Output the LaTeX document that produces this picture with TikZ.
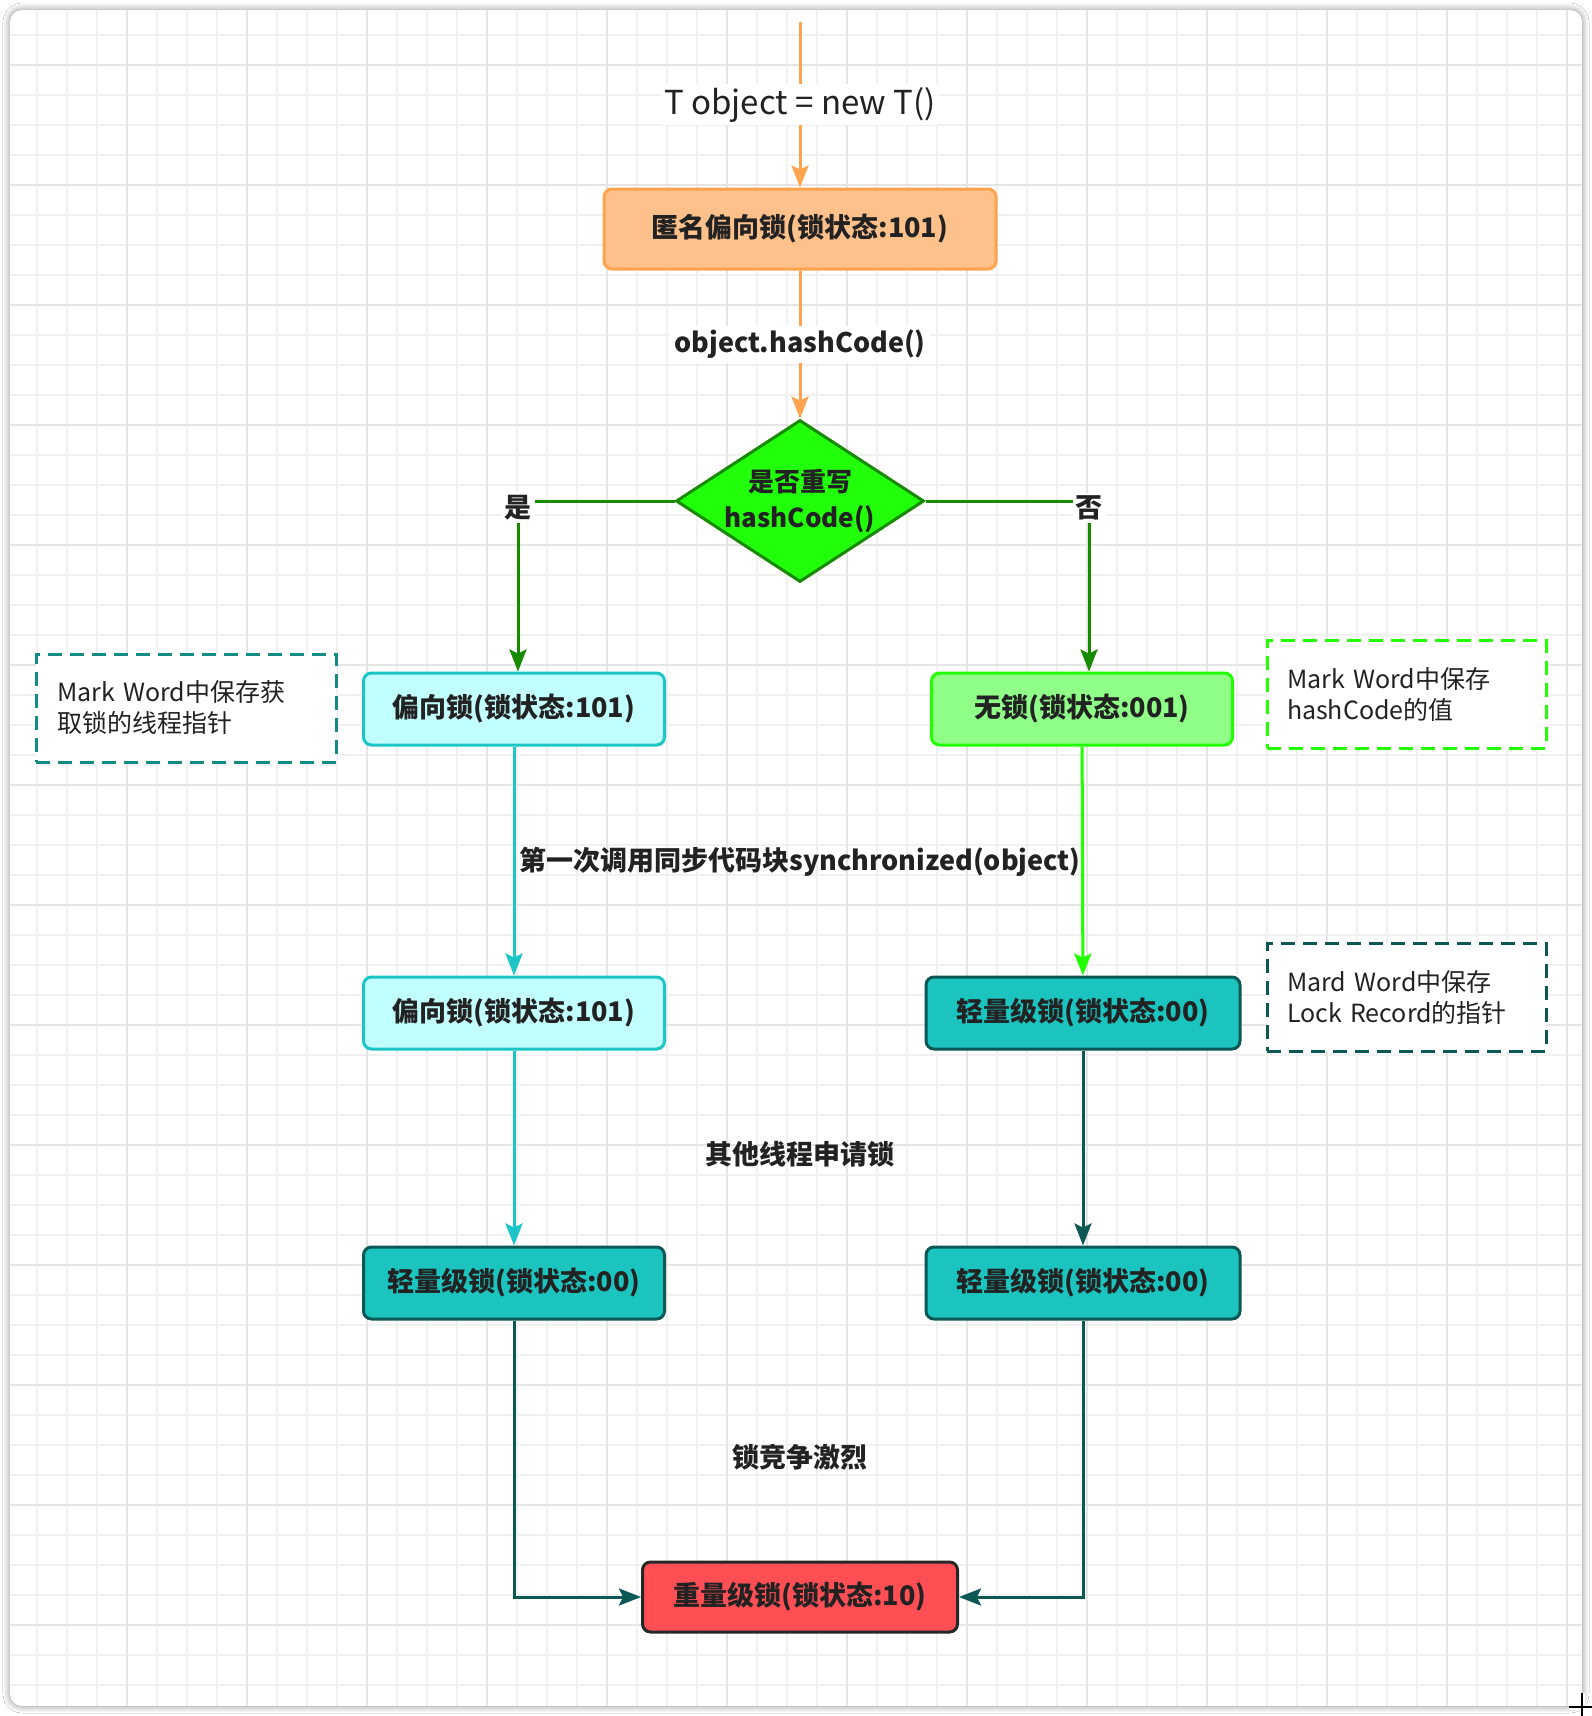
\documentclass[tikz,border=0pt]{standalone}
\usepackage{fontspec}
\setmainfont{Noto Sans CJK SC}
\usetikzlibrary{shapes.geometric,arrows.meta,shadows.blur}

\definecolor{txt}{HTML}{222222}
\definecolor{gridminor}{HTML}{F1F1F1}
\definecolor{gridmajor}{HTML}{E5E5E5}
\definecolor{orline}{HTML}{FFA34F}
\definecolor{orfill}{HTML}{FFC18B}
\definecolor{decfill}{HTML}{22FF0B}
\definecolor{decline}{HTML}{188A00}
\definecolor{cyfill}{HTML}{C2FFFF}
\definecolor{cyline}{HTML}{1CC6C6}
\definecolor{grfill}{HTML}{8FFF88}
\definecolor{grline}{HTML}{22FF00}
\definecolor{tlfill}{HTML}{1BC4BF}
\definecolor{tlline}{HTML}{0C5855}
\definecolor{rdfill}{HTML}{FF4F55}
\definecolor{rdline}{HTML}{262626}
\definecolor{noteteal}{HTML}{138C85}

\newcommand\boxfont{\fontsize{27pt}{32pt}\selectfont\bfseries}
\newcommand\notefont{\fontsize{25pt}{31pt}\selectfont}
\newcommand\bigfont{\fontsize{33pt}{38pt}\selectfont}

\tikzset{
  state/.style={rectangle, rounded corners=8pt, line width=3pt, inner sep=0pt,
    minimum width=301pt, minimum height=72pt, font=\boxfont, text=txt},
  orangebox/.style={state, fill=orfill, draw=orline, minimum width=392pt, minimum height=80pt},
  cyanbox/.style={state, fill=cyfill, draw=cyline},
  greenbox/.style={state, fill=grfill, draw=grline},
  tealbox/.style={state, fill=tlfill, draw=tlline, minimum width=314pt},
  redbox/.style={state, fill=rdfill, draw=rdline, minimum width=315pt, minimum height=70pt},
  decision/.style={diamond, shape aspect=1.53, fill=decfill, draw=decline, line width=3pt,
    inner xsep=-10pt, inner ysep=-10pt,
    minimum width=248pt, minimum height=162pt, align=center, text=txt,
    font=\fontsize{26pt}{36pt}\selectfont\bfseries},
  note/.style={rectangle, fill=white, line width=3pt, dash pattern=on 14pt off 8pt,
    align=left, inner xsep=20pt, inner ysep=0pt, minimum height=108pt,
    text width=239pt, font=\notefont, text=txt},
  link/.style={line width=3pt, -{Stealth[length=22pt,width=17pt,inset=4pt]}},
  lbl/.style={fill=white, inner sep=4pt, text=txt},
  freelbl/.style={text=txt, font=\boxfont, inner sep=2pt},
}

\begin{document}
\begin{tikzpicture}[x=1pt,y=-1pt]
\useasboundingbox (0,0) rectangle (1592,1716);
\fill[white] (0,0) rectangle (1592,1716);

% paper card with soft shadow
\fill[white, rounded corners=12pt,
  blur shadow={shadow xshift=0pt, shadow yshift=0pt, shadow blur radius=7pt,
  shadow blur steps=12, shadow opacity=45}] (10,10) rectangle (1582,1706);
\fill[white] (1560,1684) rectangle (1582,1706);

% background grid
\begin{scope}
  \clip[rounded corners=12pt] (10,10) rectangle (1582,1706);
  \foreach \k in {0,...,51} {\draw[gridminor, line width=2pt] ({37+30*\k},10) -- ({37+30*\k},1706);}
  \foreach \k in {0,...,55} {\draw[gridminor, line width=2pt] (10,{35+30*\k}) -- (1582,{35+30*\k});}
  \foreach \k in {0,...,12} {\draw[gridmajor, line width=2pt] ({127+120*\k},10) -- ({127+120*\k},1706);}
  \foreach \k in {0,...,13} {\draw[gridmajor, line width=2pt] (10,{65+120*\k}) -- (1582,{65+120*\k});}
\end{scope}

% state boxes
\node[orangebox] (anon) at (800,229) {匿名偏向锁(锁状态:101)};
\node[decision] (dec) at (800,501) {是否重写\\hashCode()};
\node[cyanbox] (b1) at (514,709) {偏向锁(锁状态:101)};
\node[greenbox] (free) at (1082,709) {无锁(锁状态:001)};
\node[cyanbox] (b2) at (514,1013) {偏向锁(锁状态:101)};
\node[tealbox] (lt1) at (1083,1013) {轻量级锁(锁状态:00)};
\node[tealbox, minimum width=301pt] (lt2) at (514,1283) {轻量级锁(锁状态:00)};
\node[tealbox] (lt3) at (1083,1283) {轻量级锁(锁状态:00)};
\node[redbox] (heavy) at (800,1597) {重量级锁(锁状态:10)};

% side notes
\node[note, draw=noteteal, text width=258pt, inner xsep=21pt] (n1) at (186,708)
  {Mark Word中保存获\\取锁的线程指针};
\node[note, draw=grline] (n2) at (1406.5,694) {Mark Word中保存\\hashCode的值};
\node[note, draw=tlline] (n3) at (1406.5,997) {Mard Word中保存\\Lock Record的指针};

% free-standing captions between the columns
\node[freelbl] (c1) at (800,862) {第一次调用同步代码块synchronized(object)};
\node[freelbl] (c2) at (800,1154) {其他线程申请锁};
\node[freelbl] (c3) at (800,1457) {锁竞争激烈};

% connectors
\coordinate (start) at (800,22);
\draw[link, orline] (start) -- node[lbl, font=\bigfont, inner sep=3pt] {T object = new T()} (anon);
\draw[link, orline] (anon) -- node[lbl, font=\boxfont] {object.hashCode()} (dec);
\draw[link, decline] (dec.west) -| node[lbl, pos=0.52, font=\boxfont, inner sep=3pt] {是} ([xshift=4pt]b1.north);
\draw[link, decline] (dec.east) -| node[lbl, pos=0.52, font=\boxfont, inner sep=3pt] {否} ([xshift=7pt]free.north);
\draw[link, cyline] (b1) -- (b2);
\draw[link, cyline] (b2) -- (lt2);
\draw[link, grline] (free) -- (lt1);
\draw[link, tlline] (lt1) -- (lt3);
\draw[link, tlline] (lt2.south) |- (heavy.west);
\draw[link, tlline] (lt3.south) |- (heavy.east);

% pointer cross at the lower right corner
\draw[white, line width=5pt] (1582,1693) -- (1582,1716) (1569,1707) -- (1592,1707);
\draw[black, line width=2pt] (1582,1693) -- (1582,1716) (1569,1707) -- (1592,1707);
\end{tikzpicture}
\end{document}
